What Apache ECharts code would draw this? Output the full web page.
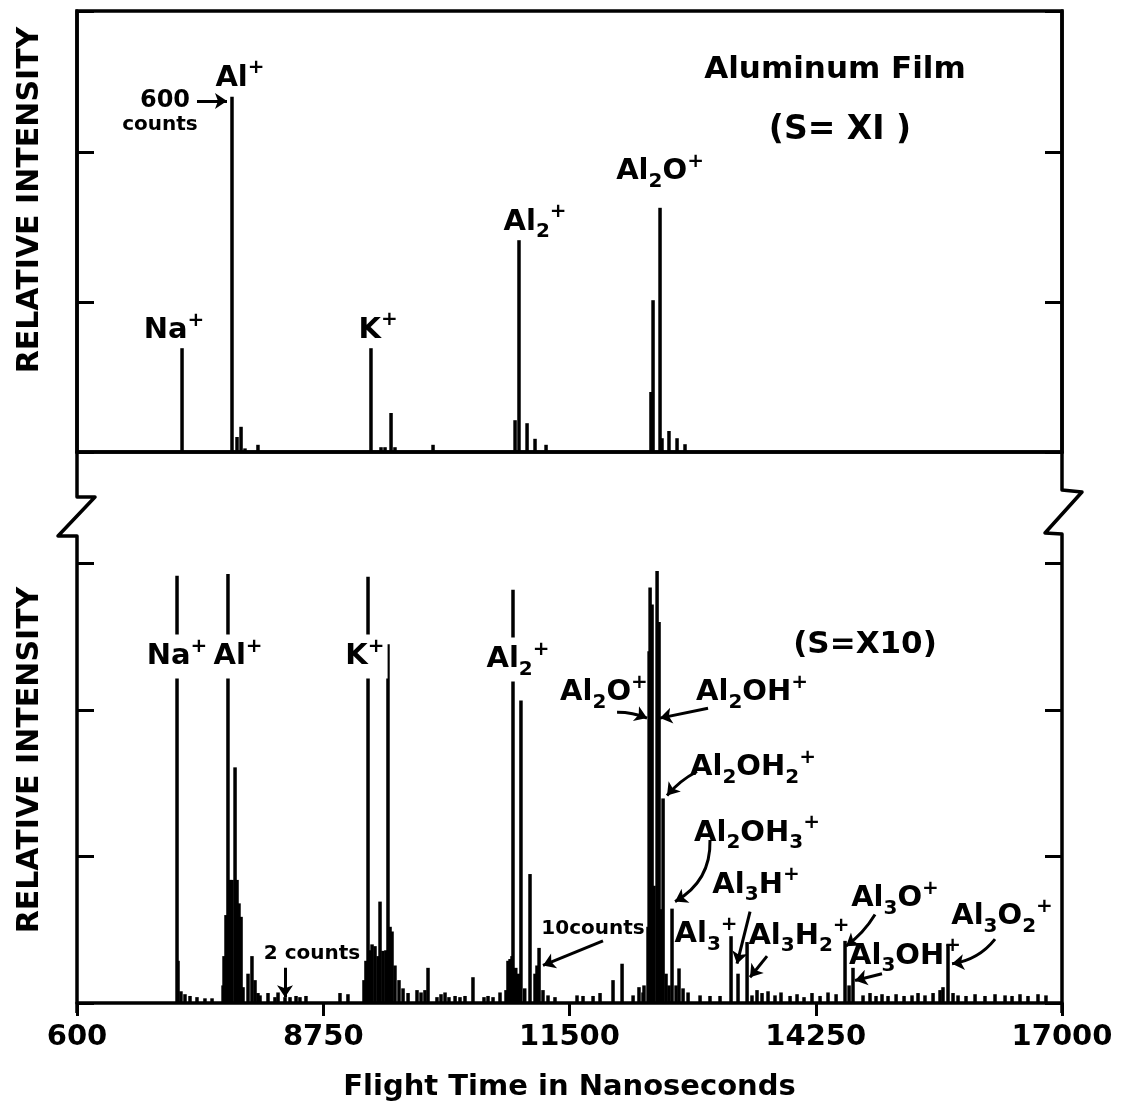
<!DOCTYPE html>
<html lang="en">
<head>
    <meta charset="UTF-8">
    <title>Aluminum Film</title>
    <script src="https://cdn.jsdelivr.net/npm/echarts@6/dist/echarts.min.js"></script>
    <style>
        html, body { margin: 0; padding: 0; background: #fff; }
        #main { width: 1124px; height: 1107px; }
    </style>
</head>
<body>
<div id="main"></div>
<script type="text/javascript">

    var FONT = 'DejaVu Sans';

    // x axis ticks and the text printed under them
    var xTicks = [6000, 8750, 11500, 14250, 17000];
    var xTickLabels = ['600', '8750', '11500', '14250', '17000'];

    // top panel (S = X1): flight time in ns, counts
    var topTime = [7173, 7731, 7787, 7832, 7876, 8021, 9283, 9395, 9440, 9507, 9551, 9976,
        10892, 10936, 11026, 11115, 11238, 12410, 12433, 12511, 12533, 12611, 12701, 12790];
    var topCounts = [173, 592, 25, 42, 6, 12, 173, 8, 8, 65, 8, 12,
        53, 353, 48, 22, 12, 100, 253, 407, 23, 35, 23, 13];

    // bottom panel (S = X10): flight time in ns, counts
    var bottomTime = [7117, 7128, 7161, 7206, 7262, 7340, 7429, 7508,
        7631, 7642, 7664, 7686, 7709, 7731, 7765, 7787, 7809, 7832, 7854,
        7910, 7954, 7988, 8021, 8044, 8133, 8211, 8245, 8323, 8379, 8446, 8490, 8557, 8937, 9026,
        9205, 9227, 9250, 9272, 9295, 9328, 9362, 9384, 9417, 9450, 9473, 9496, 9518, 9551, 9596, 9641, 9697,
        9797, 9842, 9886, 9920, 10020, 10065, 10110, 10154, 10222, 10277, 10333, 10422,
        10545, 10590, 10646, 10724, 10791, 10813, 10836, 10858, 10869, 10900, 10930, 10958, 11000,
        11059, 11115, 11137, 11160, 11204, 11260, 11338, 11584, 11651, 11763, 11841, 11986, 12087,
        12210, 12276, 12321, 12332, 12377, 12389, 12400, 12422, 12444, 12478, 12500, 12522, 12545,
        12578, 12611, 12645, 12690, 12723, 12768, 12824, 12958, 13069, 13181,
        13304, 13382, 13483, 13538, 13594, 13650, 13717, 13795, 13862, 13963, 14041, 14119, 14208,
        14298, 14387, 14477, 14577, 14622, 14666, 14778, 14856, 14923, 14990, 15057, 15147, 15236,
        15325, 15392, 15470, 15560, 15638, 15671, 15727, 15783, 15839, 15928, 16029, 16140, 16252,
        16364, 16442, 16531, 16620, 16732, 16821];
    var bottomCounts = [72.9, 7.2, 2.0, 1.5, 1.2, 1.0, 0.8, 0.8,
        3.0, 8, 15, 73.2, 21, 21, 40.2, 21, 17, 14.7, 2.7,
        5.0, 8.0, 3.9, 1.7, 1.3, 1.7, 1.0, 1.8, 1.0, 1.0, 1.2, 1.0, 1.2, 1.7, 1.5,
        3.9, 7.2, 72.7, 9, 10, 9.7, 8.0, 17.3, 8.9, 9, 61.2, 13, 12.2, 6.4, 3.9, 2.5, 1.7,
        2.2, 1.8, 2.2, 6.0, 1.0, 1.5, 1.8, 1.0, 1.2, 1.0, 1.2, 4.4,
        1.0, 1.2, 1.0, 1.8, 2.2, 7.2, 7.5, 8.0, 70.5, 6, 5, 51.6, 2.5,
        22.0, 5.0, 6.4, 9.4, 2.2, 1.3, 1.0, 1.3, 1.2, 1.2, 1.7, 3.9, 6.7,
        1.3, 2.7, 1.8, 3.0, 13, 60, 70.9, 68, 20, 73.7, 65, 16, 34.9,
        5, 3, 16.1, 3, 5.9, 2.5, 1.8, 1.3, 1.2, 1.2,
        11.4, 5.0, 10.4, 1.3, 2.2, 1.7, 2.0, 1.3, 1.8, 1.2, 1.5, 1.0, 1.7,
        1.2, 1.8, 1.5, 10.6, 3.0, 6.0, 1.3, 1.7, 1.2, 1.5, 1.2, 1.5, 1.2,
        1.3, 1.7, 1.3, 1.7, 2.2, 2.7, 10.0, 1.7, 1.3, 1.2, 1.5, 1.2, 1.5,
        1.3, 1.2, 1.5, 1.2, 1.5, 1.3];

    // peak names, anchored in data units (time, counts)
    var topLabels = [
        {text: '{b|Na}{sup|+}', at: [7083, 202]},
        {text: '{b|Al}{sup|+}', at: [7820, 623]},
        {text: '{m|600}', at: [6983, 585]},
        {text: '{s|counts}', at: [6927, 545]},
        {text: '{b|K}{sup|+}', at: [9362, 203]},
        {text: '{b|Al}{sub|2}{sup|+}', at: [11115, 383]},
        {text: '{b|Al}{sub|2}{b|O}{sup|+}', at: [12511, 467]}
    ];
    var bottomLabels = [
        {text: '{b|Na}{sup|+}', at: [7117, 59.1], bg: true},
        {text: '{b|Al}{sup|+}', at: [7798, 59.1], bg: true},
        {text: '{b|K}{sup|+}', at: [9216, 59.1], bg: true},
        {text: '{b|Al}{sub|2}{sup|+}', at: [10925, 58.6], bg: true},
        {text: '{b|Al}{sub|2}{b|O}{sup|+}', at: [11885, 52.9]},
        {text: '{b|Al}{sub|2}{b|OH}{sup|+}', at: [13538, 52.9]},
        {text: '{b|Al}{sub|2}{b|OH}{sub|2}{sup|+}', at: [13549, 40.2]},
        {text: '{b|Al}{sub|2}{b|OH}{sub|3}{sup|+}', at: [13594, 29]},
        {text: '{b|Al}{sub|3}{b|H}{sup|+}', at: [13583, 20.1]},
        {text: '{b|Al}{sub|3}{sup|+}', at: [13025, 11.7]},
        {text: '{b|Al}{sub|3}{b|H}{sub|2}{sup|+}', at: [14063, 11.4]},
        {text: '{b|Al}{sub|3}{b|O}{sup|+}', at: [15135, 17.8]},
        {text: '{b|Al}{sub|3}{b|OH}{sup|+}', at: [15247, 8.0]},
        {text: '{b|Al}{sub|3}{b|O}{sub|2}{sup|+}', at: [16330, 14.7]},
        {text: '{s|10counts}', at: [11763, 12.7]},
        {text: '{s|2 counts}', at: [8624, 8.4]}
    ];

    // arrows from a label to its peak (data units), c = curveness
    var topArrows = [
        {from: [7340, 585], to: [7675, 585]}
    ];
    var bottomArrows = [
        {from: [12031, 49.6], to: [12366, 48.6], c: 0.1},
        {from: [13047, 50.3], to: [12511, 48.6], c: 0},
        {from: [12924, 39.5], to: [12589, 35.4], c: -0.1},
        {from: [13069, 27.8], to: [12679, 17.3], c: 0.3},
        {from: [13516, 15.6], to: [13371, 6.7], c: 0},
        {from: [13706, 8.0], to: [13516, 4.4], c: 0},
        {from: [14912, 15.1], to: [14588, 9.7], c: 0.1},
        {from: [14990, 5.0], to: [14689, 3.85], c: 0},
        {from: [16252, 10.9], to: [15772, 6.7], c: 0.2},
        {from: [11874, 10.6], to: [11204, 6.4], c: 0},
        {from: [8323, 6.0], to: [8323, 1.0], c: 0}
    ];

    // layout (pixels)
    var L = 77, R = 1062, T = 11, MID = 452, B = 1013;

    function zip(xs, ys) {
        return xs.map(function (x, i) { return [x, ys[i]]; });
    }

    var rich = {
        b: {fontFamily: FONT, fontWeight: 'bold', fontSize: 29, color: '#000', lineHeight: 40},
        sub: {fontFamily: FONT, fontWeight: 'bold', fontSize: 20, color: '#000', lineHeight: 20, verticalAlign: 'bottom'},
        sup: {fontFamily: FONT, fontWeight: 'bold', fontSize: 20, color: '#000', lineHeight: 20, verticalAlign: 'top'},
        m: {fontFamily: FONT, fontWeight: 'bold', fontSize: 24, color: '#000', lineHeight: 28},
        s: {fontFamily: FONT, fontWeight: 'bold', fontSize: 20, color: '#000', lineHeight: 26}
    };

    function labelSeries(items, xi, yi) {
        return {
            type: 'scatter', xAxisIndex: xi, yAxisIndex: yi, silent: true, z: 10,
            symbolSize: 0.1, itemStyle: {color: 'rgba(0,0,0,0)', opacity: 1},
            label: {
                show: true, position: 'inside', color: '#000', opacity: 1, textBorderWidth: 0,
                formatter: function (p) { return p.name; }, rich: rich
            },
            data: items.map(function (d) {
                var item = {name: d.text, value: d.at};
                if (d.bg) item.label = {backgroundColor: '#fff', padding: [2, 3]};
                return item;
            })
        };
    }

    function arrowSeries(items, xi, yi) {
        return {
            type: 'lines', coordinateSystem: 'cartesian2d', xAxisIndex: xi, yAxisIndex: yi,
            silent: true, z: 9, symbol: ['none', 'arrow'], symbolSize: 12,
            lineStyle: {color: '#000', width: 3, opacity: 1},
            data: items.map(function (a) {
                return {coords: [a.from, a.to], lineStyle: {curveness: a.c || 0}};
            })
        };
    }

    var blank = {show: false};
    function yAxisCfg(grid, pos, max, interval, line) {
        return {
            type: 'value', gridIndex: grid, position: pos, min: 0, max: max, interval: interval,
            axisLine: line ? {show: true, lineStyle: {color: '#000', width: 3.5}} : blank,
            axisTick: {show: true, inside: true, length: 17, lineStyle: {color: '#000', width: 3}},
            axisLabel: blank, splitLine: blank
        };
    }

    var myChart = echarts.init(document.getElementById('main'));
    var option = {
        backgroundColor: '#fff',
        animation: false,
        textStyle: {color: '#000'},
        grid: [
            {left: L, width: R - L, top: T, height: MID - T, show: true, borderColor: '#000', borderWidth: 3.5},
            {left: L, width: R - L, top: MID, height: B - MID}
        ],
        xAxis: [
            {
                type: 'value', gridIndex: 0, min: 6000, max: 17000, interval: 2750,
                axisLine: {show: true, lineStyle: {color: '#000', width: 3.5}},
                axisTick: blank, axisLabel: blank, splitLine: blank
            },
            {
                type: 'value', gridIndex: 1, min: 6000, max: 17000, interval: 2750,
                axisLine: {show: true, lineStyle: {color: '#000', width: 3.5}},
                axisTick: {show: true, length: 13, lineStyle: {color: '#000', width: 3}},
                axisLabel: {
                    margin: 20, fontFamily: FONT, fontWeight: 'bold', fontSize: 29, color: '#000',
                    formatter: function (v) {
                        var i = xTicks.indexOf(v);
                        return i < 0 ? '' : xTickLabels[i];
                    }
                },
                splitLine: blank,
                name: 'Flight Time in Nanoseconds', nameLocation: 'middle', nameGap: 70,
                nameTextStyle: {fontFamily: FONT, fontWeight: 'bold', fontSize: 29, color: '#000'}
            }
        ],
        yAxis: [
            yAxisCfg(0, 'left', 735, 250, true),
            yAxisCfg(0, 'right', 735, 250, true),
            yAxisCfg(1, 'left', 94, 25, false),
            yAxisCfg(1, 'right', 94, 25, false)
        ],
        graphic: [
            {
                type: 'polyline', z: 100, silent: true,
                shape: {points: [[L, MID], [L, 497], [L + 18, 497], [L - 19, 536], [L, 536], [L, B]]},
                style: {stroke: '#000', lineWidth: 3.5, fill: null, lineJoin: 'round'}
            },
            {
                type: 'polyline', z: 100, silent: true,
                shape: {points: [[R, MID], [R, 490], [R + 20, 492], [R - 17, 533], [R, 534], [R, B]]},
                style: {stroke: '#000', lineWidth: 3.5, fill: null, lineJoin: 'round'}
            },
            {
                type: 'text', x: 30, y: 200, rotation: Math.PI / 2, silent: true,
                style: {text: 'RELATIVE INTENSITY', fontFamily: FONT, fontWeight: 'bold', fontSize: 30,
                    fill: '#000', align: 'center', verticalAlign: 'middle'}
            },
            {
                type: 'text', x: 30, y: 760, rotation: Math.PI / 2, silent: true,
                style: {text: 'RELATIVE INTENSITY', fontFamily: FONT, fontWeight: 'bold', fontSize: 30,
                    fill: '#000', align: 'center', verticalAlign: 'middle'}
            },
            {
                type: 'text', x: 835, y: 70, silent: true,
                style: {text: 'Aluminum Film', fontFamily: FONT, fontWeight: 'bold', fontSize: 31,
                    fill: '#000', align: 'center', verticalAlign: 'middle'}
            },
            {
                type: 'text', x: 840, y: 130, silent: true,
                style: {text: '(S= XI )', fontFamily: FONT, fontWeight: 'bold', fontSize: 33,
                    fill: '#000', align: 'center', verticalAlign: 'middle'}
            },
            {
                type: 'text', x: 865, y: 645, silent: true,
                style: {text: '(S=X10)', fontFamily: FONT, fontWeight: 'bold', fontSize: 31,
                    fill: '#000', align: 'center', verticalAlign: 'middle'}
            }
        ],
        series: [
            {
                name: 'S=X1', type: 'bar', xAxisIndex: 0, yAxisIndex: 0, barWidth: 3.5, silent: true,
                itemStyle: {color: '#000'}, data: zip(topTime, topCounts)
            },
            {
                name: 'S=X10', type: 'bar', xAxisIndex: 1, yAxisIndex: 2, barWidth: 3.5, silent: true,
                itemStyle: {color: '#000'}, data: zip(bottomTime, bottomCounts)
            },
            labelSeries(topLabels, 0, 0),
            labelSeries(bottomLabels, 1, 2),
            arrowSeries(topArrows, 0, 0),
            arrowSeries(bottomArrows, 1, 2)
        ]
    };
    myChart.setOption(option);

</script>
</body>
</html>
